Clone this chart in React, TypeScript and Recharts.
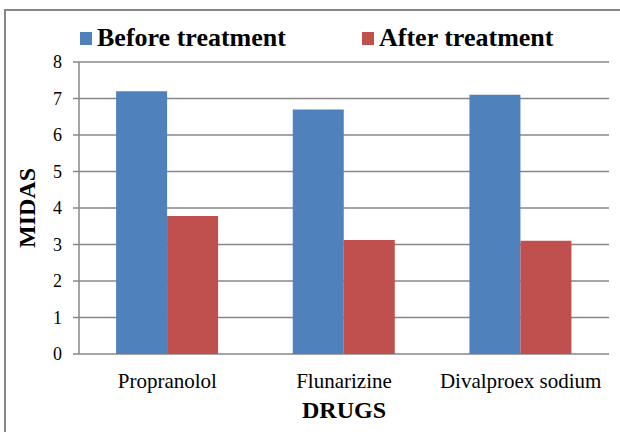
import { BarChart, Bar, XAxis, YAxis, CartesianGrid, Legend } from 'recharts'

// Excel-style palette
const BLUE = '#4f81bd'
const RED = '#c0504d'
const GRID = '#878787'
const FONT = '"Liberation Serif", "Times New Roman", Times, serif'

const drugs = ['Propranolol', 'Flunarizine', 'Divalproex sodium']
const beforeTreatment = [7.2, 6.7, 7.1]
const afterTreatment = [3.78, 3.12, 3.1]
const yTicks = [0, 1, 2, 3, 4, 5, 6, 7, 8]
const edgeTicks = [0, 1, 2, 3]
const seriesOrder = ['before', 'after']

const data = drugs.map((drug, i) => ({
  drug,
  edge: i,
  before: beforeTreatment[i],
  after: afterTreatment[i],
}))

type LegendItem = { value?: string; color?: string; dataKey?: string }

function TopLegend({ payload }: { payload?: LegendItem[] }) {
  const lefts = [74, 356]
  const items = [...(payload ?? [])].sort(
    (a, b) => seriesOrder.indexOf(String(a.dataKey)) - seriesOrder.indexOf(String(b.dataKey)),
  )
  return (
    <div style={{ position: 'relative', width: 614, height: 41 }}>
      {items.map((item, i) => (
        <div
          key={item.value}
          style={{ position: 'absolute', left: lefts[i], top: 2, display: 'flex', alignItems: 'center' }}
        >
          <span style={{ display: 'inline-block', width: 12, height: 13, background: item.color, marginRight: 5 }} />
          <span style={{ fontFamily: FONT, fontWeight: 'bold', fontSize: 26, color: '#000', lineHeight: '30px' }}>
            {item.value}
          </span>
        </div>
      ))}
    </div>
  )
}

export default function App() {
  return (
    <div
      style={{
        position: 'absolute',
        left: 4,
        top: 9,
        width: 620,
        height: 430,
        border: `2px solid ${GRID}`,
        boxSizing: 'border-box',
        background: '#fff',
        fontFamily: FONT,
      }}
    >
      <BarChart
        width={614}
        height={419}
        data={data}
        margin={{ top: 10, right: 11, left: 0, bottom: 0 }}
        barCategoryGap="21%"
        barGap={0}
      >
        <CartesianGrid stroke={GRID} strokeWidth={1.5} vertical={false} yAxisId="v" xAxisId="cat" />
        <Legend
          verticalAlign="top"
          align="left"
          content={(props) => <TopLegend payload={props.payload as LegendItem[]} />}
          wrapperStyle={{ height: 41 }}
        />
        <XAxis
          xAxisId="edges"
          type="number"
          dataKey="edge"
          domain={[0, 3]}
          ticks={edgeTicks}
          tick={false}
          tickSize={6}
          height={0}
          axisLine={{ stroke: GRID, strokeWidth: 1.5 }}
          tickLine={{ stroke: GRID, strokeWidth: 1.5 }}
        />
        <XAxis
          xAxisId="cat"
          dataKey="drug"
          height={76}
          axisLine={false}
          tickLine={false}
          tickSize={0}
          tickMargin={19}
          tick={{ fill: '#000', fontSize: 21, fontFamily: FONT }}
          interval={0}
          label={({ viewBox }: any) => (
            <text
              x={viewBox.x + viewBox.width / 2}
              y={viewBox.y + 64}
              textAnchor="middle"
              fontFamily={FONT}
              fontWeight="bold"
              fontSize={24}
              fill="#000"
            >
              DRUGS
            </text>
          )}
        />
        <YAxis
          yAxisId="v"
          width={73}
          domain={[0, 8]}
          ticks={yTicks}
          interval={0}
          tickSize={6}
          tickMargin={11}
          axisLine={{ stroke: GRID, strokeWidth: 1.5 }}
          tickLine={{ stroke: GRID, strokeWidth: 1.5 }}
          tick={{ fill: '#000', fontSize: 18, fontFamily: FONT }}
          label={({ viewBox }: any) => {
            const cx = 21
            const cy = viewBox.y + viewBox.height / 2
            return (
              <text
                x={cx}
                y={cy}
                transform={`rotate(-90 ${cx} ${cy})`}
                textAnchor="middle"
                dominantBaseline="central"
                fontFamily={FONT}
                fontWeight="bold"
                fontSize={24}
                fill="#000"
              >
                MIDAS
              </text>
            )
          }}
        />
        <Bar dataKey="before" name="Before treatment" fill={BLUE} xAxisId="cat" yAxisId="v" isAnimationActive={false} />
        <Bar dataKey="after" name="After treatment" fill={RED} xAxisId="cat" yAxisId="v" isAnimationActive={false} />
      </BarChart>
    </div>
  )
}
